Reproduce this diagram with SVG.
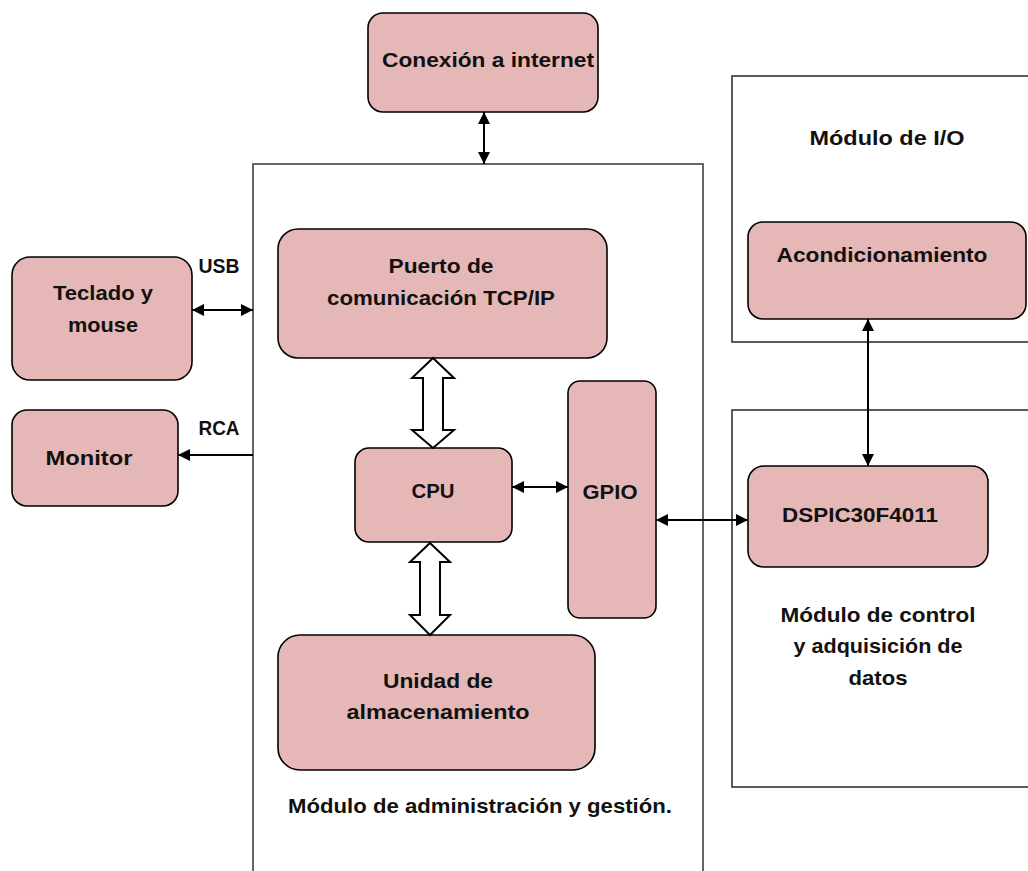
<svg xmlns="http://www.w3.org/2000/svg" width="1028" height="871" viewBox="0 0 1028 871">
  <style>
    .box { fill: #E5B8B7; stroke: #000; stroke-width: 1.6; }
    .frame-main { fill: none; stroke: #666; stroke-width: 2; }
    .frame { fill: none; stroke: #333; stroke-width: 1.6; }
    .lbl { font-family: "Liberation Sans", Arial, sans-serif; font-weight: bold; font-size: 21px; fill: #111; text-anchor: middle; }
    .wire { stroke: #000; stroke-width: 2; fill: none; }
    .bus { fill: #fff; stroke: #000; stroke-width: 2; stroke-linejoin: miter; }
  </style>
  <defs>
    <marker id="head" viewBox="0 0 10 10" refX="10" refY="5" markerWidth="12" markerHeight="12" markerUnits="userSpaceOnUse" orient="auto-start-reverse">
      <path d="M0,0 L10,5 L0,10 z" fill="#000"/>
    </marker>
  </defs>

  <!-- module frames -->
  <g id="modulo-admin">
    <rect class="frame-main" x="253" y="164" width="450" height="720"/>
    <text class="lbl" x="480" y="813" textLength="384" lengthAdjust="spacingAndGlyphs">Módulo de administración y gestión.</text>
  </g>
  <g id="modulo-io">
    <rect class="frame" x="732" y="76" width="320" height="266"/>
    <text class="lbl" x="887" y="145" textLength="155" lengthAdjust="spacingAndGlyphs">Módulo de I/O</text>
  </g>
  <g id="modulo-control">
    <rect class="frame" x="732" y="410" width="320" height="377"/>
    <text class="lbl" x="878" y="622" textLength="195" lengthAdjust="spacingAndGlyphs">Módulo de control</text>
    <text class="lbl" x="878" y="653" textLength="169" lengthAdjust="spacingAndGlyphs">y adquisición de</text>
    <text class="lbl" x="878" y="685" textLength="59" lengthAdjust="spacingAndGlyphs">datos</text>
  </g>

  <!-- nodes -->
  <g id="internet">
    <rect class="box" x="368" y="13" width="230" height="99" rx="15"/>
    <text class="lbl" x="488" y="67" textLength="212" lengthAdjust="spacingAndGlyphs">Conexión a internet</text>
  </g>
  <g id="teclado">
    <rect class="box" x="12" y="257" width="180" height="123" rx="18"/>
    <text class="lbl" x="103" y="300" textLength="100" lengthAdjust="spacingAndGlyphs">Teclado y</text>
    <text class="lbl" x="103" y="332" textLength="70" lengthAdjust="spacingAndGlyphs">mouse</text>
  </g>
  <g id="monitor">
    <rect class="box" x="12" y="410" width="166" height="96" rx="15"/>
    <text class="lbl" x="89" y="465" textLength="87" lengthAdjust="spacingAndGlyphs">Monitor</text>
  </g>
  <g id="puerto">
    <rect class="box" x="278" y="229" width="329" height="129" rx="20"/>
    <text class="lbl" x="441" y="273" textLength="105" lengthAdjust="spacingAndGlyphs">Puerto de</text>
    <text class="lbl" x="441" y="305" textLength="228" lengthAdjust="spacingAndGlyphs">comunicación TCP/IP</text>
  </g>
  <g id="cpu">
    <rect class="box" x="355" y="448" width="157" height="94" rx="14"/>
    <text class="lbl" x="433" y="498" textLength="43" lengthAdjust="spacingAndGlyphs">CPU</text>
  </g>
  <g id="gpio">
    <rect class="box" x="568" y="381" width="88" height="237" rx="12"/>
    <text class="lbl" x="610" y="499" textLength="55" lengthAdjust="spacingAndGlyphs">GPIO</text>
  </g>
  <g id="almacenamiento">
    <rect class="box" x="278" y="635" width="317" height="135" rx="22"/>
    <text class="lbl" x="438" y="688" textLength="110" lengthAdjust="spacingAndGlyphs">Unidad de</text>
    <text class="lbl" x="438" y="719" textLength="183" lengthAdjust="spacingAndGlyphs">almacenamiento</text>
  </g>
  <g id="acondicionamiento">
    <rect class="box" x="748" y="222" width="278" height="97" rx="15"/>
    <text class="lbl" x="882" y="262" textLength="211" lengthAdjust="spacingAndGlyphs">Acondicionamiento</text>
  </g>
  <g id="dspic">
    <rect class="box" x="748" y="466" width="240" height="101" rx="16"/>
    <text class="lbl" x="860" y="522" textLength="156" lengthAdjust="spacingAndGlyphs">DSPIC30F4011</text>
  </g>

  <!-- connectors -->
  <g id="connectors">
    <line class="wire" x1="484" y1="112" x2="484" y2="164" marker-start="url(#head)" marker-end="url(#head)"/>
    <line class="wire" x1="192" y1="310" x2="253" y2="310" marker-start="url(#head)" marker-end="url(#head)"/>
    <line class="wire" x1="253" y1="455" x2="178" y2="455" marker-end="url(#head)"/>
    <line class="wire" x1="512" y1="487" x2="568" y2="487" marker-start="url(#head)" marker-end="url(#head)"/>
    <line class="wire" x1="656" y1="520" x2="748" y2="520" stroke-width="3" marker-start="url(#head)" marker-end="url(#head)"/>
    <line class="wire" x1="868" y1="319" x2="868" y2="466" marker-start="url(#head)" marker-end="url(#head)"/>
    <!-- data buses -->
    <polygon class="bus" points="433,358 454,378 443,378 443,430 454,430 433,448 412,430 423,430 423,378 412,378"/>
    <polygon class="bus" points="430,543 450,562 440,562 440,615 450,615 430,635 410,615 420,615 420,562 410,562"/>
    <text class="lbl" x="219" y="273" textLength="41" lengthAdjust="spacingAndGlyphs">USB</text>
    <text class="lbl" x="219" y="435" textLength="41" lengthAdjust="spacingAndGlyphs">RCA</text>
  </g>
</svg>
